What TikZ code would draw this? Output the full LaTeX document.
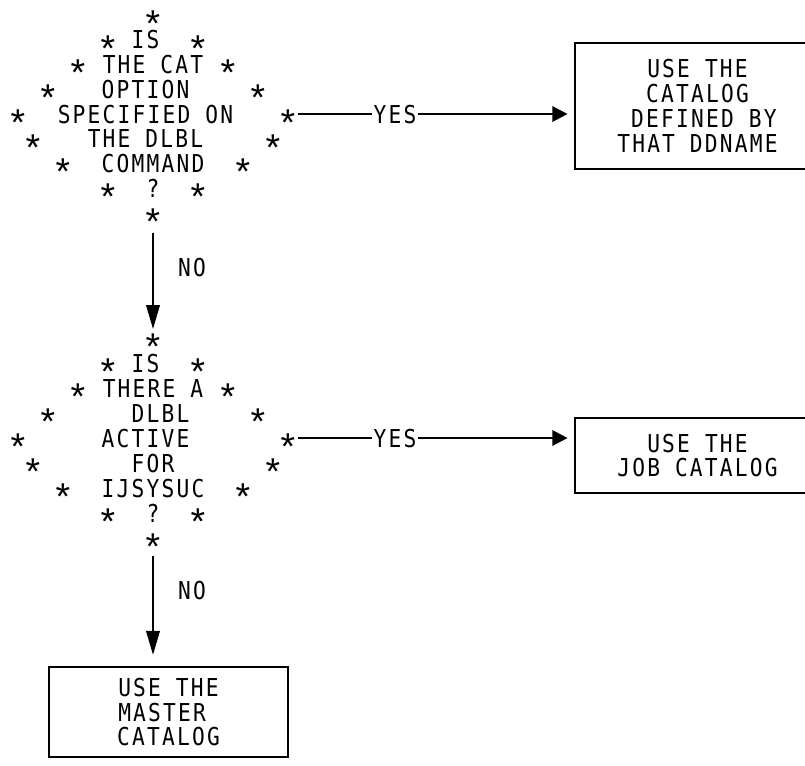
\documentclass[tikz,border=0pt]{standalone}
\usepackage{fontspec}
\newfontfamily\mono[FakeStretch=0.86,LetterSpace=9]{DejaVu Sans Mono}
\newfontfamily\astfont{Liberation Sans}
\usetikzlibrary{arrows.meta}
\tikzset{
  txt/.style={font=\mono\fontsize{18.5}{18.6}\selectfont, inner sep=0pt, text height=13.5pt, text depth=0pt},
  astx/.style={font=\astfont\fontsize{28}{28}\selectfont, inner sep=0pt, text height=0pt, text depth=0pt},
  boxtxt/.style={draw, line width=2.1pt, font=\mono\fontsize{18.5}{18.6}\selectfont, align=center, inner sep=0pt},
  conn/.style={line width=1.9pt},
  harrow/.style={conn, -{Triangle[length=11.5pt,width=11.5pt]}},
  varrow/.style={conn, -{Triangle[length=18pt,width=10pt]}},
}
\newcommand{\astglyph}{\makebox[0pt]{\raisebox{-0.57em}{*}}}
\begin{document}
\begin{tikzpicture}[x=0.75pt,y=-0.75pt]
\fill[white] (0,0) rectangle (805,765);
\useasboundingbox (0,0) rectangle (805,765);

% ---------- decision 1 ----------
\node[astx] (d1t) at (153,15) {\astglyph};
\node[astx] (d1b) at (153,213) {\astglyph};
\foreach \k/\c in {1/3,2/5,3/7,4/9,5/8,6/6,7/3}{
  \node[astx] (d1l\k) at ({153-15*\c},{15+24.75*\k}) {\astglyph};
  \node[astx] (d1r\k) at ({153+15*\c},{15+24.75*\k}) {\astglyph};
}
\node[txt] (d1a) at (145.5,39.75) {IS};
\node[txt] (d1c) at (153,64.5) {THE CAT};
\node[txt] (d1d) at (145.5,89.25) {OPTION};
\node[txt] (d1e) at (145.5,114) {SPECIFIED ON};
\node[txt] (d1f) at (145.5,138.75) {THE DLBL};
\node[txt] (d1g) at (153,163.5) {COMMAND};
\node[txt] (d1h) at (153,188.25) {?};

% ---------- decision 2 ----------
\node[astx] (d2t) at (153,338) {\astglyph};
\node[astx] (d2b) at (153,538) {\astglyph};
\foreach \k/\c in {1/3,2/5,3/7,4/9,5/8,6/6,7/3}{
  \node[astx] (d2l\k) at ({153-15*\c},{338+25*\k}) {\astglyph};
  \node[astx] (d2r\k) at ({153+15*\c},{338+25*\k}) {\astglyph};
}
\node[txt] (d2a) at (145.5,363) {IS};
\node[txt] (d2c) at (153,388) {THERE A};
\node[txt] (d2d) at (160.5,413) {DLBL};
\node[txt] (d2e) at (145.5,438) {ACTIVE};
\node[txt] (d2f) at (153,463) {FOR};
\node[txt] (d2g) at (153,488) {IJSYSUC};
\node[txt] (d2h) at (153,513) {?};

% ---------- boxes ----------
\node[boxtxt, minimum width=183.75pt, minimum height=94.5pt] (box1) at (697.5,106)
  {USE THE\\CATALOG\\\hphantom{D}DEFINED BY\\THAT DDNAME};
\node[boxtxt, minimum width=183.75pt, minimum height=56.25pt] (box2) at (697.5,455.5)
  {USE THE\\JOB CATALOG};
\node[boxtxt, minimum width=179.25pt, minimum height=67.5pt] (box3) at (168.5,712)
  {USE THE\\MASTER\hphantom{R}\\CATALOG};

% ---------- labels ----------
\node[txt, inner xsep=1pt] (yes1) at (395,114) {YES};
\node[txt, inner xsep=1pt] (yes2) at (395,438) {YES};
\node[txt] (no1) at (192,267) {NO};
\node[txt] (no2) at (192,590) {NO};

% ---------- connectors ----------
\draw[conn, shorten <=6.75pt] (d1r4) -- (yes1.west);
\draw[harrow, shorten >=4.5pt] (yes1.east) -- (yes1.east -| box1.west);
\draw[conn, shorten <=6.75pt] (d2r4) -- (yes2.west);
\draw[harrow, shorten >=4.5pt] (yes2.east) -- (yes2.east -| box2.west);
\draw[varrow, shorten <=14pt, shorten >=6pt] (d1b) -- (d2t);
\draw[varrow, shorten <=12.75pt, shorten >=8pt] (d2b) -- (d2b |- box3.north);
\end{tikzpicture}
\end{document}
